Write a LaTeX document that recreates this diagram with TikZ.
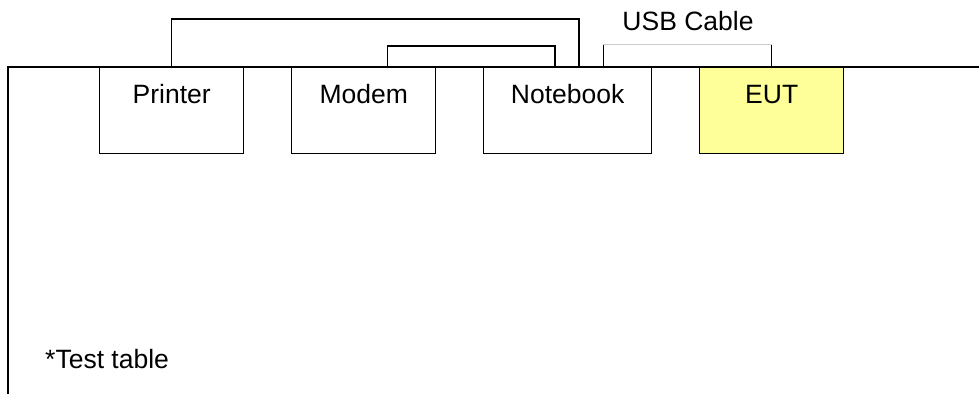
\documentclass[tikz,border=0pt]{standalone}
\usepackage{fontspec}
\setmainfont{Liberation Sans}
\usetikzlibrary{calc}
\definecolor{eutyellow}{HTML}{FFFF99}
\tikzset{
  device/.style={draw=black, line width=1.4pt, rectangle, anchor=north west,
    minimum width=144pt, minimum height=86pt, inner xsep=0pt, inner ysep=0pt,
    text height=36pt, text depth=50pt, font=\fontsize{26.5}{31}\selectfont},
  cable/.style={draw=black, line width=1.4pt},
  label text/.style={font=\fontsize{26.5}{31}\selectfont, inner sep=0pt}
}
\begin{document}
\begin{tikzpicture}[x=1pt, y=-1pt]
\useasboundingbox (0,0) rectangle (979,394);
% test table edge
\coordinate (tbl-bl) at (8,394);
\coordinate (tbl-tl) at (8,67);
\coordinate (tbl-tr) at (979,67);
\draw[cable] (tbl-bl) -- (tbl-tl) -- (tbl-tr);
% devices on the table
\node[device] (printer) at (99,67) {Printer};
\node[device] (modem) at (291,67) {Modem};
\node[device, minimum width=168pt] (notebook) at (483,67) {Notebook};
\node[device, fill=eutyellow] (eut) at (699,67) {EUT};
% cables
\draw[cable] (printer.north) -- ++(0,-48) -| ($(notebook.north west)+(96,0)$);
\draw[cable] ($(modem.north)+(24,0)$) -- ++(0,-21) -| ($(notebook.north west)+(72,0)$);
\coordinate (usb-a) at ($(notebook.north west)+(120,-23)$);
\coordinate (usb-b) at ($(eut.north)+(0,-23)$);
\draw[cable, line width=1pt] ($(notebook.north west)+(120,0)$) -- (usb-a);
\draw[cable, line width=1pt] (eut.north) -- (usb-b);
\draw[draw=black!20, line width=1pt] (usb-a) -- (usb-b);
\node[label text, anchor=base] (usb-label) at (688,30) {USB Cable};
\node[label text, anchor=base west] (table-label) at (45,368) {*Test table};
\end{tikzpicture}
\end{document}
